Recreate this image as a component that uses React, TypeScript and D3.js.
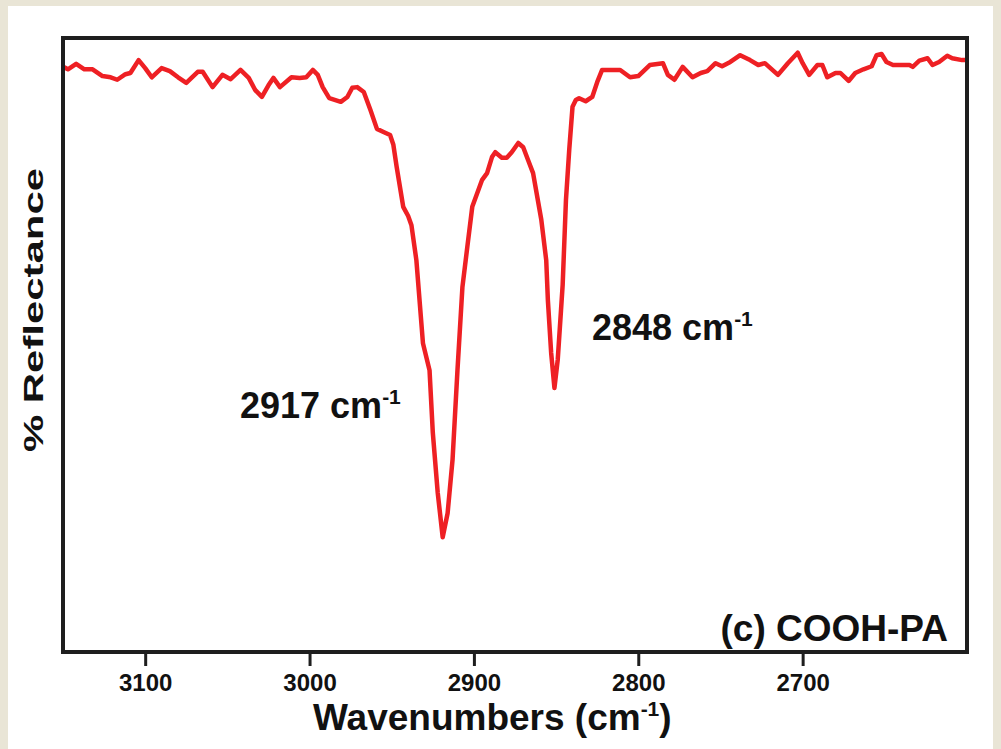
import { useEffect, useRef } from 'react';
import * as d3 from 'd3';

// wavenumbers (cm-1) and reflectance (arbitrary units)
const wavenumbers = [
  3149, 3147, 3142, 3137, 3132, 3126, 3121, 3117, 3112, 3109, 3104, 3100, 3096, 3090, 3085,
  3080, 3075, 3068, 3065, 3059, 3053, 3048, 3042, 3037, 3033, 3029, 3025, 3022, 3018, 3011,
  3006, 3002, 2998, 2995, 2992, 2988, 2981, 2977, 2974, 2971, 2967, 2963, 2959, 2955, 2951,
  2949, 2947, 2943, 2940, 2938, 2935, 2931, 2927, 2925, 2922, 2919, 2916, 2913, 2910, 2907,
  2904, 2901, 2895, 2892, 2889, 2887, 2883, 2880, 2877, 2873, 2870, 2867, 2864, 2859, 2856,
  2855, 2853, 2851, 2849, 2847, 2846, 2844, 2842, 2840, 2838, 2836, 2832, 2828, 2825, 2822,
  2811, 2805, 2800, 2793, 2785, 2782, 2778, 2773, 2767, 2762, 2758, 2753, 2749, 2744, 2738,
  2732, 2727, 2723, 2715, 2709, 2703, 2700, 2696, 2691, 2688, 2685, 2680, 2677, 2672, 2668,
  2663, 2658, 2655, 2652, 2649, 2645, 2635, 2633, 2629, 2624, 2621, 2617, 2612, 2609, 2603,
  2601,
];
const reflectance = [
  95.2, 94.9, 95.8, 94.9, 94.9, 93.8, 93.6, 93.2, 94.1, 94.3, 96.4, 95.1, 93.6, 95.1, 94.6,
  93.6, 92.7, 94.5, 94.5, 92.0, 94.0, 93.3, 94.8, 93.5, 91.5, 90.4, 92.3, 93.5, 92.0, 93.6,
  93.5, 93.6, 94.8, 94.0, 92.0, 90.2, 89.6, 90.4, 91.9, 92.0, 91.2, 88.3, 85.2, 84.7, 84.2,
  82.6, 79.0, 72.5, 71.0, 69.5, 63.8, 50.3, 45.9, 35.7, 25.9, 18.7, 22.6, 31.3, 45.9, 59.4,
  66.0, 72.5, 76.9, 78.0, 80.6, 81.4, 80.5, 80.5, 81.4, 82.9, 82.2, 80.1, 78.0, 70.4, 63.8,
  57.3, 48.7, 43.0, 47.6, 55.7, 59.8, 73.6, 81.8, 88.8, 89.9, 90.2, 89.7, 90.4, 92.8, 94.8,
  94.8, 93.6, 93.8, 95.6, 95.9, 94.0, 93.2, 95.3, 93.6, 94.3, 94.6, 95.9, 95.4, 96.1, 97.2,
  96.4, 95.6, 95.9, 94.0, 95.9, 97.6, 95.9, 94.0, 95.6, 95.6, 93.6, 94.3, 94.3, 93.0, 94.3,
  94.9, 95.4, 97.2, 97.4, 96.1, 95.6, 95.6, 95.3, 96.3, 96.7, 95.6, 96.1, 97.1, 96.7, 96.4,
  96.4,
];
const xTicks = [3100, 3000, 2900, 2800, 2700];
const peakLabels = ['2917', '2848'];

const App = () => {
  const ref = useRef<SVGSVGElement>(null);

  useEffect(() => {
    const svg = d3.select(ref.current);
    svg.selectAll('*').remove();
    const width = 1001;
    const height = 749;
    const margin = { top: 38, right: 34, bottom: 97, left: 63 };
    const innerWidth = width - margin.left - margin.right;
    const innerHeight = height - margin.top - margin.bottom;
    const font = 'Liberation Sans, Arial, sans-serif';

    // page background with the white panel
    svg.append('rect').attr('width', width).attr('height', height).attr('fill', '#e9e5d6');
    svg.append('rect').attr('x', 8).attr('y', 6).attr('width', 985).attr('height', 750).attr('fill', '#ffffff');

    const xScale = d3.scaleLinear().domain([3150, 2600]).range([0, innerWidth]);
    const yScale = d3.scaleLinear().domain([0, 100]).range([innerHeight, 0]);

    const g = svg.append('g').attr('transform', `translate(${margin.left},${margin.top})`);

    const data = wavenumbers.map((w, i) => ({ w, r: reflectance[i] }));
    const line = d3.line<{ w: number; r: number }>()
      .x(d => xScale(d.w))
      .y(d => yScale(d.r));

    g.append('path')
      .datum(data)
      .attr('d', line)
      .attr('fill', 'none')
      .attr('stroke', '#ee2024')
      .attr('stroke-width', 4.5)
      .attr('stroke-linejoin', 'round')
      .attr('stroke-linecap', 'round');

    // frame
    g.append('rect')
      .attr('width', innerWidth).attr('height', innerHeight)
      .attr('fill', 'none').attr('stroke', '#1e1e1e').attr('stroke-width', 4);

    const xAxisG = g.append('g')
      .attr('transform', `translate(0,${innerHeight})`)
      .call(d3.axisBottom(xScale).tickValues(xTicks).tickSize(14).tickPadding(8).tickFormat(d3.format('d')));
    xAxisG.select('.domain').remove();
    xAxisG.selectAll('.tick line').attr('stroke', '#1e1e1e').attr('stroke-width', 3);
    xAxisG.selectAll('.tick text')
      .attr('fill', '#111')
      .style('font-family', font).style('font-weight', 'bold').style('font-size', '24px');

    // axis titles
    const xTitle = svg.append('text')
      .attr('x', 313).attr('y', 730)
      .attr('fill', '#111')
      .style('font-family', font).style('font-weight', 'bold').style('font-size', '37px');
    xTitle.append('tspan').text('Wavenumbers (cm');
    xTitle.append('tspan').text('-1').attr('dy', -14).style('font-size', '21px');
    xTitle.append('tspan').text(')').attr('dy', 14);

    svg.append('text')
      .attr('transform', 'translate(43,310) rotate(-90)')
      .attr('text-anchor', 'middle')
      .attr('fill', '#111')
      .attr('textLength', 284).attr('lengthAdjust', 'spacingAndGlyphs')
      .style('font-family', font).style('font-weight', 'bold').style('font-size', '28px')
      .text('% Reflectance');

    // peak annotations
    const annotate = (label: string, x: number, y: number) => {
      const t = svg.append('text')
        .attr('x', x).attr('y', y)
        .attr('fill', '#111')
        .style('font-family', font).style('font-weight', 'bold').style('font-size', '36px');
      t.append('tspan').text(`${label} cm`);
      t.append('tspan').text('-1').attr('dy', -14).style('font-size', '21px');
    };
    annotate(peakLabels[0], 240, 418);
    annotate(peakLabels[1], 592, 340);

    svg.append('text')
      .attr('x', 948).attr('y', 641)
      .attr('text-anchor', 'end')
      .attr('fill', '#111')
      .style('font-family', font).style('font-weight', 'bold').style('font-size', '37px')
      .text('(c) COOH-PA');
  }, []);

  return (
    <div style={{ position: 'absolute', left: 0, top: 0 }}>
      <svg ref={ref} width={1001} height={749} style={{ display: 'block' }} />
    </div>
  );
};

export default App;
